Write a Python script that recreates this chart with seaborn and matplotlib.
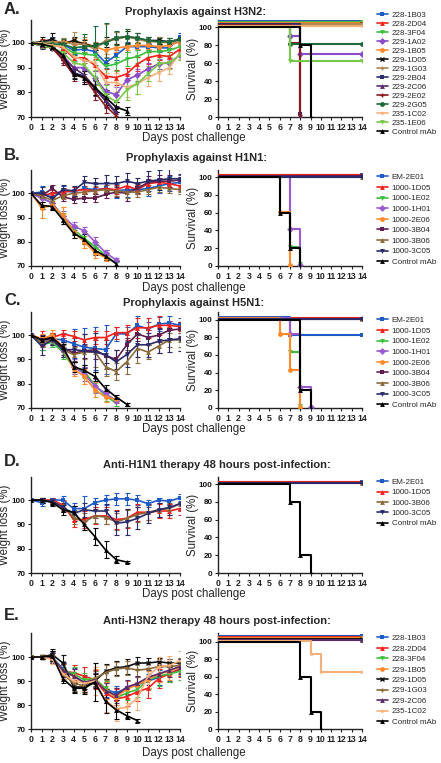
import matplotlib
matplotlib.use("Agg")
import matplotlib.pyplot as plt
import seaborn as sns
import pandas as pd

# ---------------- DATA ----------------
DAYS = list(range(15))

# Panel A: Prophylaxis against H3N2
A_MABS = ["228-1B03", "228-2D04", "228-3F04", "229-1A02", "229-1B05", "229-1D05", "229-1G03",
          "229-2B04", "229-2C06", "229-2E02", "229-2G05", "235-1C02", "235-1E06", "Control mAb"]
A_WEIGHT = [
    [100, 100, 101, 99.5, 97, 97.5, 96.5, 92, 95, 98.5, 98.5, 98.5, 98, 98, 102.5],
    [100, 100, 99.5, 98, 94, 94, 91, 86.5, 86, 87.5, 91.5, 94, 95, 94.5, 97.5],
    [100, 100, 99.5, 98.5, 96, 95.5, 95, 90.5, 91.5, 93.5, 94.5, 96.5, 96.5, 97, 98.5],
    [100, 99, 98, 95, 90, 90, 86, 80.5, 79, 85, 87, 89.5, 91.5, 92, 95],
    [100, 100, 100, 100.5, 100.5, 100, 98.5, 97, 98, 98.5, 99, 99, 98.5, 99, 100.5],
    [100, 100.5, 101.5, 99.5, 101, 99.5, 98.5, 100.5, 102, 102.5, 102, 101, 101, 100.5, 101.5],
    [100, 100, 100.5, 100.5, 99.5, 99.5, 97.5, 101, 101.5, 102.5, 101.5, 100.5, 100.5, 100, 100.5],
    [100, 99, 98, 94, 88, 86.5, 81.5, 76.5, 71.5],
    [100, 99, 98, 94, 90, 87, 82, 77, 72],
    [100, 99, 98, 93, 87, 86, 80, 74.5, 70.5],
    [100, 100, 99.5, 99.5, 98, 98.5, 99, 100, 102, 102.5, 102, 101, 100.5, 100.5, 101.5],
    [100, 100, 99, 98.5, 94.5, 93, 92, 84, 84, 82, 83.5, 86, 88, 90, 96],
    [100, 99, 98, 96, 92, 91, 86, 79, 76, 81, 83.5, 87.5, 91.5, 92, 95],
    [100, 99.5, 98.5, 95, 87.5, 86, 82, 78, 74, 72.5],
]
A_SD = [
    [0, 1, 1.5, 1, 1.5, 1.5, 1.5, 2, 2, 2, 1.5, 1.5, 1.5, 1.5, 1.5],
    [0, 1.5, 1, 1.5, 2, 2, 2.5, 3, 3, 2.5, 3, 2.5, 2, 2, 2],
    [0, 1, 1, 1.5, 1.5, 1.5, 2, 2.5, 3, 3, 2.5, 2, 2, 2, 1.5],
    [0, 1, 1, 2, 2, 2.5, 2.5, 3, 3, 2.5, 2.5, 2.5, 2, 2, 1.5],
    [0, 1, 1, 1.5, 1.5, 1.5, 2, 1.5, 1.5, 1.5, 1.5, 1.5, 1.5, 1.5, 1.5],
    [0, 2, 2.5, 1.5, 1.5, 1.5, 1.5, 2, 2.5, 2.5, 2, 1.5, 1.5, 1.5, 1.5],
    [0, 1, 1.5, 1.5, 5, 3, 3, 6.5, 3, 3, 2.5, 2, 2, 2, 2],
    [0, 1.5, 1, 2, 2, 2.5, 3, 3, 2.5],
    [0, 1, 1, 2, 2.5, 3, 3, 3, 2.5],
    [0, 1, 1, 2, 2.5, 2.5, 3, 3, 1.5],
    [0, 1, 1.5, 2, 3, 5, 8, 8, 3, 3, 2, 1.5, 1.5, 1.5, 1.5],
    [0, 1, 1.5, 2, 2.5, 3, 3, 4, 4, 4, 4, 3.5, 3.5, 2.5, 2.5],
    [0, 1, 1, 2, 2.5, 2.5, 3, 4, 4, 4, 4, 3, 3, 2.5, 2],
    [0, 1, 1, 2, 2, 2.5, 3, 3, 2, 1.5],
]
A_SURV_DAYS = [[0, 14], [0, 14], [0, 14], [0, 7, 8, 14], [0, 14], [0, 14], [0, 14],
               [0, 8], [0, 8], [0, 7, 8], [0, 7, 14], [0, 14], [0, 7, 14], [0, 8, 9]]
A_SURV = [[100, 100], [100, 100], [100, 100], [100, 85, 65, 65], [100, 100], [100, 100], [100, 100],
          [100, 0], [100, 0], [100, 80, 0], [100, 80, 80], [100, 100], [100, 62, 62], [100, 80, 0]]
A_COLORS = ["#1f5bc6", "#f2211b", "#3cbf3c", "#8a4cc8", "#ff8a30", "#111111", "#b08850",
            "#2a2d6a", "#5a2a6a", "#8a1a20", "#1a6a3a", "#f5b07a", "#77c94a", "#000000"]
A_MARKERS = ["s", "^", "v", "D", "o", "x", "+", "s", "^", "+", "o", "*", "v", "^"]

# Panels B and C: Prophylaxis against H1N1 / H5N1
BC_MABS = ["EM-2E01", "1000-1D05", "1000-1E02", "1000-1H01", "1000-2E06",
           "1000-3B04", "1000-3B06", "1000-3C05", "Control mAb"]
BC_COLORS = ["#1f5bc6", "#f2211b", "#3cbf3c", "#9b59d0", "#ff8a2a", "#5e1f4e", "#8a6a3a", "#2a2a6a", "#000000"]
BC_MARKERS = ["s", "^", "v", "D", "o", "s", "^", "v", "^"]
B_WEIGHT = [
    [100, 100.5, 98, 101, 100.5, 102, 101.5, 102, 101, 101.5, 101.5, 102, 103, 104, 104.5],
    [100, 99, 100, 100.5, 101, 101.5, 101, 102, 101.5, 103, 101.5, 104, 104.5, 104, 103],
    [100, 98, 96, 90, 85, 81.5, 78, 74.5, 71],
    [100, 98, 96, 90.5, 86.5, 84.5, 80, 75.5, 72.5],
    [100, 94, 95, 91, 84, 80, 75.5, 73.5],
    [100, 99, 102, 98.5, 97.5, 98, 98, 99.5, 100.5, 100, 102, 104.5, 105, 105, 105.5],
    [100, 99, 97, 99, 100, 100.5, 101, 101.5, 101, 100.5, 100.5, 101.5, 102.5, 102, 101.5],
    [100, 100, 98, 101.5, 101, 104.5, 104, 104, 104, 105, 104, 105, 105.5, 106, 106],
    [100, 95, 94.5, 89, 83.5, 81, 76.5, 74, 71],
]
B_SD = [
    [0, 2.5, 2, 2, 2, 2.5, 2.5, 2.5, 3, 3, 2, 3, 3, 3, 3],
    [0, 1.5, 1.5, 1.5, 1.5, 1.5, 1.5, 1.5, 2, 2, 2, 2, 2, 2, 2],
    [0, 1.5, 1.5, 2, 2, 2, 2, 2, 1],
    [0, 1.5, 1.5, 2, 1.5, 1.5, 2, 1, 1],
    [0, 4, 2, 3.5, 2.5, 2.5, 2, 1.5],
    [0, 1.5, 1.5, 1.5, 1.5, 1.5, 1.5, 1.5, 2, 3, 2, 2.5, 2.5, 2.5, 2.5],
    [0, 1, 1, 1.5, 1.5, 2, 2, 2, 2, 2.5, 2, 2, 2, 2, 2],
    [0, 2.5, 2, 2, 2, 2.5, 2.5, 3.5, 3, 3.5, 2.5, 4, 4, 4, 4],
    [0, 1.5, 1.5, 1.5, 2, 2, 2, 1.5, 1],
]
B_SURV_DAYS = [[0, 14], [0, 14], [0, 7, 8], [0, 7, 8], [0, 6, 7], [0, 14], [0, 14], [0, 14], [0, 6, 7, 8]]
B_SURV = [[100, 100], [100, 100], [100, 20, 0], [100, 40, 0], [100, 60, 0],
          [100, 100], [100, 100], [100, 100], [100, 60, 20, 0]]

C_WEIGHT = [
    [100, 97, 98.5, 98, 96.5, 95, 94.5, 94, 100.5, 100.5, 104, 102.5, 104.5, 105, 104],
    [100, 98.5, 99, 100.5, 99.5, 98, 99, 99, 101, 101, 103, 103, 104, 104, 103.5],
    [100, 96, 97, 93, 86.5, 85, 79.5, 75, 72],
    [100, 97, 98, 94, 87, 84, 79, 76, 73],
    [100, 98.5, 100, 95, 86, 83, 77.5, 74.5, 73.5],
    [100, 98, 98.5, 95, 92.5, 93.5, 94, 91.5, 90, 96, 100.5, 99, 100, 102, 102.5],
    [100, 97, 98, 94, 92, 93, 93, 87, 85, 89, 94.5, 93, 95.5, 98, 98],
    [100, 95.5, 98, 94, 94, 93.5, 93, 92, 89, 92, 96, 96, 97.5, 98, 98.5],
    [100, 98, 99, 95, 87, 85.5, 83, 78, 74.5, 71.5],
]
C_SD = [
    [0, 3, 2.5, 3, 6, 8, 9, 10, 3, 3, 4, 3, 3, 3, 3],
    [0, 3, 2, 1.5, 2, 2.5, 2.5, 2.5, 2.5, 3, 4, 4, 4, 2, 2],
    [0, 2, 2, 3, 2.5, 2.5, 3, 2, 1],
    [0, 2, 2, 3, 3, 3, 3, 2, 1],
    [0, 2, 2, 3, 3, 3, 3, 2, 1],
    [0, 2, 2, 3, 3, 3, 4, 3, 4, 3, 3, 3, 3, 3, 3],
    [0, 2, 2, 3, 3, 3, 6, 4, 3.5, 5, 6, 3, 3, 3, 3],
    [0, 3.5, 2, 3, 5, 7, 8, 6, 5, 5, 5, 5, 5, 5, 5],
    [0, 1.5, 1.5, 1.5, 2, 2, 2, 1.5, 1, 0.5],
]
C_SURV_DAYS = [[0, 7, 14], [0, 14], [0, 7, 8], [0, 7, 8, 9], [0, 6, 7, 8], [0, 14], [0, 14], [0, 14], [0, 8, 9]]
C_SURV = [[100, 80, 80], [100, 100], [100, 62, 0], [100, 82, 22, 0], [100, 82, 42, 0],
          [100, 100], [100, 100], [100, 100], [100, 20, 0]]

# Panel D: Anti-H1N1 therapy
D_MABS = ["EM-2E01", "1000-1D05", "1000-3B06", "1000-3C05", "Control mAb"]
D_COLORS = ["#1f5bc6", "#f2211b", "#8a6a3a", "#2a2a6a", "#000000"]
D_MARKERS = ["s", "^", "^", "v", "^"]
D_WEIGHT = [
    [100, 99, 100, 100, 96.5, 96.5, 99, 100, 100.5, 100.5, 100, 98.5, 100, 99.5, 101],
    [100, 100, 100, 98, 92, 92, 93.5, 93.5, 92, 92.5, 95, 95, 95.5, 95.5, 96.5],
    [100, 100, 99.5, 97.5, 93, 91, 93.5, 93, 91, 92.5, 94, 95, 96, 96.5, 98.5],
    [100, 100, 99.5, 97, 94.5, 96, 95.5, 95.5, 90.5, 91, 92.5, 94.5, 96, 97, 98.5],
    [100, 100, 99, 96, 95, 90, 85, 79.5, 75.5, 74.5],
]
D_SD = [
    [0, 1.5, 1, 1.5, 2.5, 5, 2, 2, 2.5, 2.5, 2, 1.5, 1, 1, 1.5],
    [0, 1, 1, 2, 3, 3.5, 3.5, 3.5, 4, 4, 3.5, 3, 3, 3, 2.5],
    [0, 1, 1, 2, 3, 3.5, 3, 3, 3.5, 3.5, 3, 3, 3, 2.5, 2.5],
    [0, 1, 1, 2, 3, 3, 3, 3, 5, 5.5, 4.5, 4, 3, 3, 2.5],
    [0, 1, 1.5, 2, 2.5, 2.5, 3.5, 3.5, 1.5, 0.5],
]
D_SURV_DAYS = [[0, 14], [0, 14], [0, 14], [0, 14], [0, 7, 8, 9]]
D_SURV = [[100, 100], [100, 100], [100, 100], [100, 100], [100, 80, 20, 0]]

# Panel E: Anti-H3N2 therapy
E_MABS = ["228-1B03", "228-2D04", "228-3F04", "229-1B05", "229-1D05", "229-1G03", "229-2C06", "235-1C02", "Control mAb"]
E_COLORS = ["#1f5bc6", "#f2211b", "#3cbf3c", "#ff8a30", "#111111", "#8a6a3a", "#5a2a6a", "#f5b07a", "#000000"]
E_MARKERS = ["s", "^", "v", "o", "x", "+", "^", "*", "^"]
E_WEIGHT = [
    [100, 100, 100, 95, 92.5, 89, 90.5, 86.5, 85, 87, 88.5, 90, 91.5, 93, 95],
    [100, 100, 99.5, 94, 93.5, 92, 90.5, 85, 82.5, 83.5, 85.5, 87, 91, 93, 95],
    [100, 100, 99.5, 94.5, 93, 90.5, 91, 87, 83, 85, 86.5, 90.5, 92, 93, 94],
    [100, 100, 99.5, 94, 92, 89, 91, 86, 83.5, 86.5, 88.5, 90.5, 93, 94, 96],
    [100, 100, 101, 97.5, 87.5, 87.5, 90, 94, 95.5, 96, 97.5, 97.5, 98, 97.5, 97.5],
    [100, 100, 100.5, 93, 89, 88, 91, 93.5, 95, 95.5, 94.5, 95, 96, 96, 96.5],
    [100, 100, 99.5, 94.5, 92, 89.5, 90.5, 86, 84, 87.5, 89, 91.5, 93, 94.5, 96],
    [100, 100, 99, 93, 90, 89, 90, 82, 78.5, 79, 83, 92, 96, 96.5, 98.5],
    [100, 100, 100.5, 91, 87, 87, 89.5, 81.5, 78, 75.5, 73.5],
]
E_SD = [
    [0, 1, 2, 3, 3, 2.5, 3, 3, 3, 3, 3, 3, 3, 3, 3],
    [0, 1, 2, 3, 3, 4, 4, 4, 4, 4, 4, 4, 4, 3.5, 3.5],
    [0, 1, 2, 3, 3, 3, 3, 3, 3, 3, 3, 4, 4, 3.5, 3.5],
    [0, 1, 2, 3, 3, 3, 4, 3.5, 3.5, 3.5, 3.5, 3.5, 3.5, 3.5, 3.5],
    [0, 1, 2.5, 3.5, 2, 2, 3, 3, 3, 3, 2.5, 2, 1.5, 1.5, 1.5],
    [0, 1, 2, 3, 3, 3, 3, 3, 3, 3, 3, 3, 3, 3, 3],
    [0, 1, 2, 3, 3, 3, 3, 3, 3, 3, 3, 3, 3, 3, 3],
    [0, 1, 2, 3, 3, 3, 6, 5, 5, 2, 5, 5, 4, 4, 4],
    [0, 1, 2, 2, 2, 2.5, 8, 5, 4, 1.5, 0.5],
]
E_SURV_DAYS = [[0, 14]] * 7 + [[0, 9, 10, 14], [0, 8, 9, 10]]
E_SURV = [[100, 100]] * 7 + [[100, 85, 65, 65], [100, 60, 20, 0]]

TITLES = ["Prophylaxis against H3N2:", "Prophylaxis against H1N1:", "Prophylaxis against H5N1:",
          "Anti-H1N1 therapy 48 hours post-infection:", "Anti-H3N2 therapy 48 hours post-infection:"]
LETTERS = ["A.", "B.", "C.", "D.", "E."]

# ---------------- STYLE / LAYOUT ----------------
sns.set_theme(style="ticks")
plt.rcParams["font.family"] = ["Liberation Sans", "DejaVu Sans"]
plt.rcParams["axes.linewidth"] = 1.0

W, H = 441, 763
fig = plt.figure(figsize=(W / 100, H / 100), dpi=100)

def fx(px):
    return px / W

def fy(px):
    return 1 - px / H

panels = [
    dict(mabs=A_MABS, colors=A_COLORS, markers=A_MARKERS, w=A_WEIGHT, sd=A_SD, sd_days=A_SURV_DAYS, sv=A_SURV,
         top=20, bot=117, wtop=109.3, stop=108, off=0.5, letter_y=9, title_y=12, title_x=196, xl_y=137.5,
         leg_top=11.5, leg_sp=0.17),
    dict(mabs=BC_MABS, colors=BC_COLORS, markers=BC_MARKERS, w=B_WEIGHT, sd=B_SD, sd_days=B_SURV_DAYS, sv=B_SURV,
         top=170, bot=266, wtop=109.6, stop=108, off=0.3, letter_y=155, title_y=158, title_x=196, xl_y=287.5,
         leg_top=173.5, leg_sp=0.37),
    dict(mabs=BC_MABS, colors=BC_COLORS, markers=BC_MARKERS, w=C_WEIGHT, sd=C_SD, sd_days=C_SURV_DAYS, sv=C_SURV,
         top=312, bot=408, wtop=109.5, stop=108.5, off=0.3, letter_y=300, title_y=303, title_x=194, xl_y=429,
         leg_top=316.5, leg_sp=0.37),
    dict(mabs=D_MABS, colors=D_COLORS, markers=D_MARKERS, w=D_WEIGHT, sd=D_SD, sd_days=D_SURV_DAYS, sv=D_SURV,
         top=477, bot=573, wtop=109.5, stop=108, off=0.7, letter_y=461, title_y=465, title_x=217, xl_y=594.5,
         leg_top=478.5, leg_sp=0.33),
    dict(mabs=E_MABS, colors=E_COLORS, markers=E_MARKERS, w=E_WEIGHT, sd=E_SD, sd_days=E_SURV_DAYS, sv=E_SURV,
         top=633, bot=729, wtop=110, stop=110, off=0.8, letter_y=616, title_y=621, title_x=217, xl_y=753,
         leg_top=634.5, leg_sp=0.35),
]

XT_FS = 6.3
YT_FS = 5.8
LAB_FS = 8.3
MS = 3.5

for pi, p in enumerate(panels):
    hpx = p["bot"] - p["top"]
    axw = fig.add_axes([fx(31), fy(p["bot"]), fx(149), hpx / H])
    axs = fig.add_axes([fx(218), fy(p["bot"]), fx(144), hpx / H])
    n = len(p["mabs"])
    for i, name in enumerate(p["mabs"]):
        vals = p["w"][i]
        days = DAYS[:len(vals)]
        c = p["colors"][i]
        m = p["markers"][i]
        mew = 1.0 if m in ("x", "+") else 0
        df = pd.DataFrame({"day": days, "weight": vals})
        axw.errorbar(days, vals, yerr=p["sd"][i], fmt="none", ecolor=c, elinewidth=0.8,
                     capsize=1.8, capthick=0.8, zorder=2)
        sns.lineplot(data=df, x="day", y="weight", ax=axw, color=c, marker=m, markersize=MS,
                     markeredgewidth=mew, markeredgecolor=c,
                     lw=1.2, label=name, legend=False, zorder=3)
        # survival (step curve); small visual stagger for overlapping curves
        sdays = p["sd_days"][i]
        svals = [v + (n - 1 - i) * p["off"] for v in p["sv"][i]]
        sdf = pd.DataFrame({"day": sdays, "surv": svals})
        sns.lineplot(data=sdf, x="day", y="surv", ax=axs, color=c, marker=m, markersize=MS,
                     markeredgewidth=mew, markeredgecolor=c,
                     lw=1.5, drawstyle="steps-post", markevery=list(range(1, len(sdays))),
                     legend=False, zorder=3)

    for ax in (axw, axs):
        ax.set_xlim(0, 14)
        ax.set_xticks(range(15))
        ax.set_xticklabels([str(d) for d in range(15)], fontsize=XT_FS, fontweight="bold", color="#111111")
        ax.tick_params(axis="both", direction="out", length=2.5, width=0.8, pad=1.5, colors="#222222")
        ax.set_xlabel("")
        for s in ("top", "right"):
            ax.spines[s].set_visible(False)
        ax.spines["left"].set_color("#222222")
        ax.spines["bottom"].set_color("#222222")
        ax.set_facecolor("none")
    axw.set_ylim(70, p["wtop"])
    axw.set_yticks([70, 80, 90, 100])
    axw.set_yticklabels(["70", "80", "90", "100"], fontsize=YT_FS, fontweight="bold", color="#111111")
    axw.set_ylabel("Weight loss (%)", fontsize=LAB_FS)
    axw.yaxis.set_label_coords(-0.135, 0.5)
    axs.set_ylim(0, p["stop"])
    axs.set_yticks([0, 20, 40, 60, 80, 100])
    axs.set_yticklabels(["0", "20", "40", "60", "80", "100"], fontsize=YT_FS, fontweight="bold", color="#111111")
    axs.set_ylabel("Survival (%)", fontsize=LAB_FS)
    axs.yaxis.set_label_coords(-0.135, 0.5)

    handles, labels = axw.get_legend_handles_labels()
    fig.legend(handles, labels, loc="upper left", bbox_to_anchor=(fx(377), fy(p["leg_top"])),
               frameon=False, fontsize=5.8, handlelength=1.35, handletextpad=0.45,
               labelspacing=p["leg_sp"], borderpad=0, borderaxespad=0)

    fig.text(fx(4), fy(p["letter_y"]), LETTERS[pi], fontsize=12, fontweight="bold", va="center", ha="left")
    fig.text(fx(p["title_x"]), fy(p["title_y"]), TITLES[pi], fontsize=8, fontweight="bold",
             va="center", ha="center")
    fig.text(fx(194), fy(p["xl_y"]), "Days post challenge", fontsize=LAB_FS, va="center", ha="center")

fig.savefig("out.png", dpi=100)
